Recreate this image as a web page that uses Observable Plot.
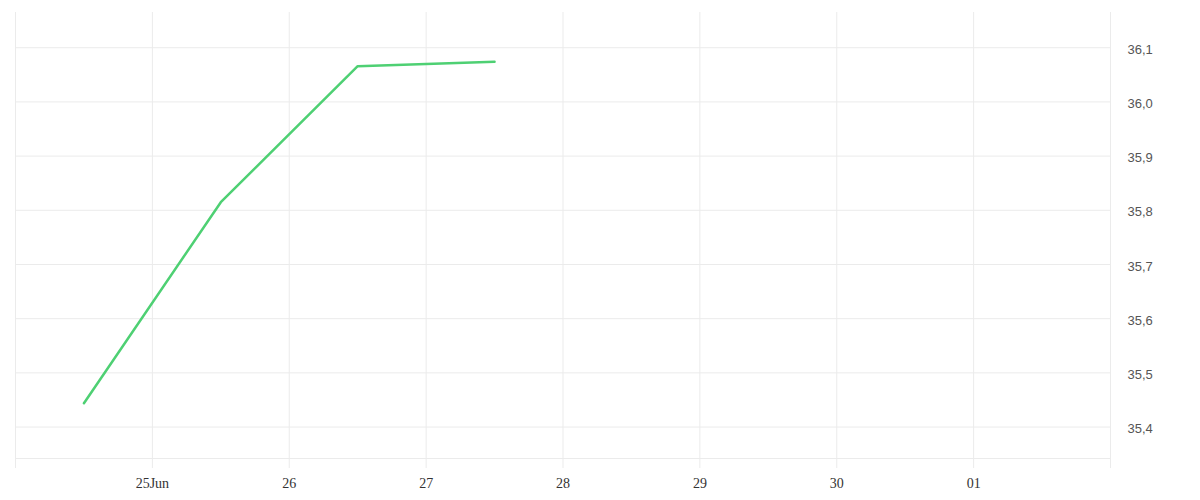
<!DOCTYPE html>
<html>
<head>
<meta charset="utf-8">
<script src="https://cdn.jsdelivr.net/npm/d3@7"></script>
<script src="https://cdn.jsdelivr.net/npm/@observablehq/plot@0.6"></script>
<style>
  html, body { margin: 0; padding: 0; background: #fff; }
  #chart svg { display: block; }
</style>
</head>
<body>
<div id="chart"></div>
<script>
// Data
const dates = ["2024-06-24T12:00Z", "2024-06-25T12:00Z", "2024-06-26T12:00Z", "2024-06-27T12:00Z"];
const values = [35.444, 35.815, 36.066, 36.074];

// Axis ticks
const gridDays = ["2024-06-24", "2024-06-25", "2024-06-26", "2024-06-27", "2024-06-28", "2024-06-29", "2024-06-30", "2024-07-01", "2024-07-02"];
const xTicks = ["2024-06-25", "2024-06-26", "2024-06-27", "2024-06-28", "2024-06-29", "2024-06-30", "2024-07-01"];
const xTickLabels = ["25Jun", "26", "27", "28", "29", "30", "01"];
const yTicks = [35.4, 35.5, 35.6, 35.7, 35.8, 35.9, 36.0, 36.1];
const yDomain = [35.342, 36.165];
const xDomain = ["2024-06-24", "2024-07-02"];

const data = dates.map((d, i) => ({date: new Date(d), value: values[i]}));
const gridDates = gridDays.map(d => new Date(d + "T00:00Z"));
const xTickDates = xTicks.map(d => new Date(d + "T00:00Z"));
const labelByTime = new Map(xTickDates.map((d, i) => [+d, xTickLabels[i]]));

const chart = Plot.plot({
  width: 1200,
  height: 500,
  marginLeft: 15,
  marginRight: 90,
  marginTop: 12,
  marginBottom: 42,
  style: {background: "#fff"},
  x: {type: "utc", domain: xDomain.map(d => new Date(d + "T00:00Z"))},
  y: {domain: yDomain},
  marks: [
    Plot.ruleY(yTicks, {stroke: "#ebebeb", strokeWidth: 1}),
    Plot.ruleY([yDomain[0]], {stroke: "#ebebeb", strokeWidth: 1}),
    Plot.ruleX(gridDates, {stroke: "#ebebeb", strokeWidth: 1, insetBottom: -10}),
    Plot.axisX(xTickDates, {
      anchor: "bottom",
      tickSize: 0,
      tickPadding: 20,
      tickFormat: d => labelByTime.get(+d),
      fontSize: 14,
      fontFamily: "'Liberation Serif', 'DejaVu Serif', serif",
      fill: "#333",
      label: null
    }),
    Plot.axisY(yTicks, {
      anchor: "right",
      tickSize: 0,
      tickPadding: 17,
      dy: 2,
      tickFormat: d => d.toFixed(1).replace(".", ","),
      fontSize: 13,
      fontFamily: "'Liberation Sans Narrow', 'Arial Narrow', 'Liberation Sans', sans-serif",
      fill: "#555",
      label: null
    }),
    Plot.line(data, {x: "date", y: "value", stroke: "#4ed073", strokeWidth: 2.5})
  ]
});

document.getElementById("chart").appendChild(chart);
</script>
</body>
</html>
